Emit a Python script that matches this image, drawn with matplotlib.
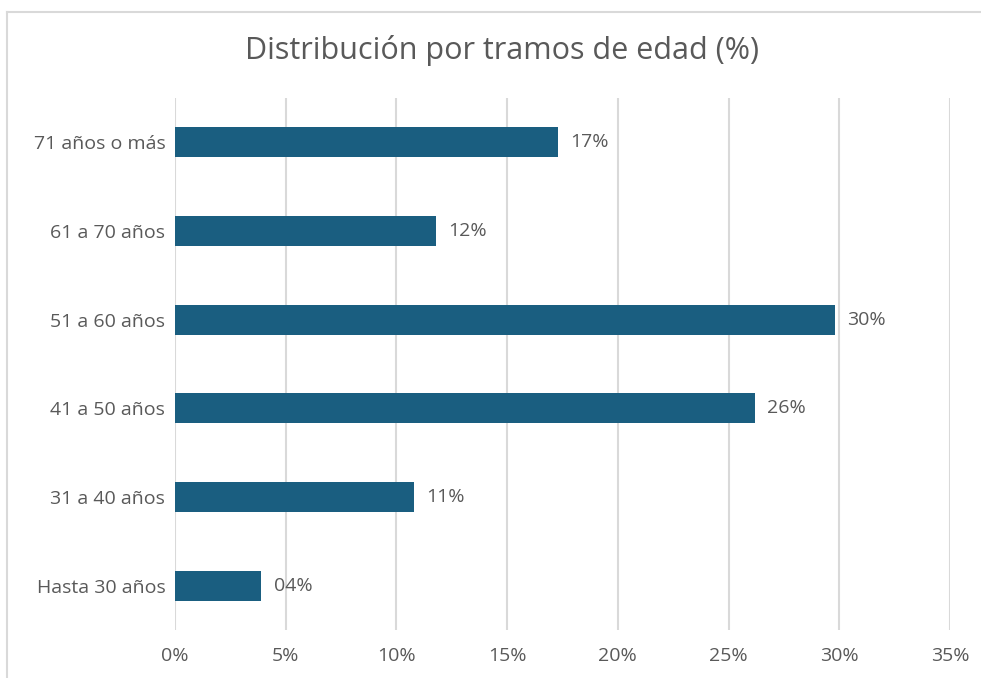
import matplotlib.pyplot as plt
from matplotlib.lines import Line2D
from matplotlib.ticker import FuncFormatter

plt.rcParams['font.family'] = ['Open Sans', 'DejaVu Sans']

categorias = ['Hasta 30 años', '31 a 40 años', '41 a 50 años',
              '51 a 60 años', '61 a 70 años', '71 años o más']
valores = [3.9, 10.8, 26.2, 29.8, 11.8, 17.3]
etiquetas = ['04%', '11%', '26%', '30%', '12%', '17%']
ticks_x = [0, 5, 10, 15, 20, 25, 30, 35]

color_barra = '#1a5e80'
color_texto = '#595959'

fig = plt.figure(figsize=(9.81, 6.78), dpi=100)
ax = fig.add_axes([175 / 981, 1 - 630 / 678, 775 / 981, 532 / 678])

y = range(len(categorias))
ax.barh(y, valores, height=0.34, color=color_barra, zorder=3)
for i, (v, t) in enumerate(zip(valores, etiquetas)):
    ax.text(v + 0.55, i, t, va='center', ha='left', fontsize=14, color=color_texto)

ax.set_xlim(0, 35)
ax.set_ylim(-0.5, 5.5)
ax.set_xticks(ticks_x)
ax.xaxis.set_major_formatter(FuncFormatter(lambda x, p: f'{x:.0f}%'))
ax.set_yticks(list(y))
ax.set_yticklabels(categorias)
ax.tick_params(axis='both', length=0, labelsize=14, labelcolor=color_texto)
ax.tick_params(axis='x', pad=12)
ax.tick_params(axis='y', pad=7)
ax.grid(axis='x', color='#d9d9d9', linewidth=1.5, zorder=0)
for s in ax.spines.values():
    s.set_visible(False)

fig.text(502 / 981, 1 - 51 / 678, 'Distribución por tramos de edad (%)',
         ha='center', va='center', fontsize=22, color=color_texto)

# marco del gráfico
fig.add_artist(Line2D([7 / 981, 1], [1 - 12 / 678, 1 - 12 / 678], color='#d9d9d9', linewidth=1.5))
fig.add_artist(Line2D([7 / 981, 7 / 981], [0, 1 - 12 / 678], color='#d9d9d9', linewidth=1.5))

fig.savefig('out.png', dpi=100)
